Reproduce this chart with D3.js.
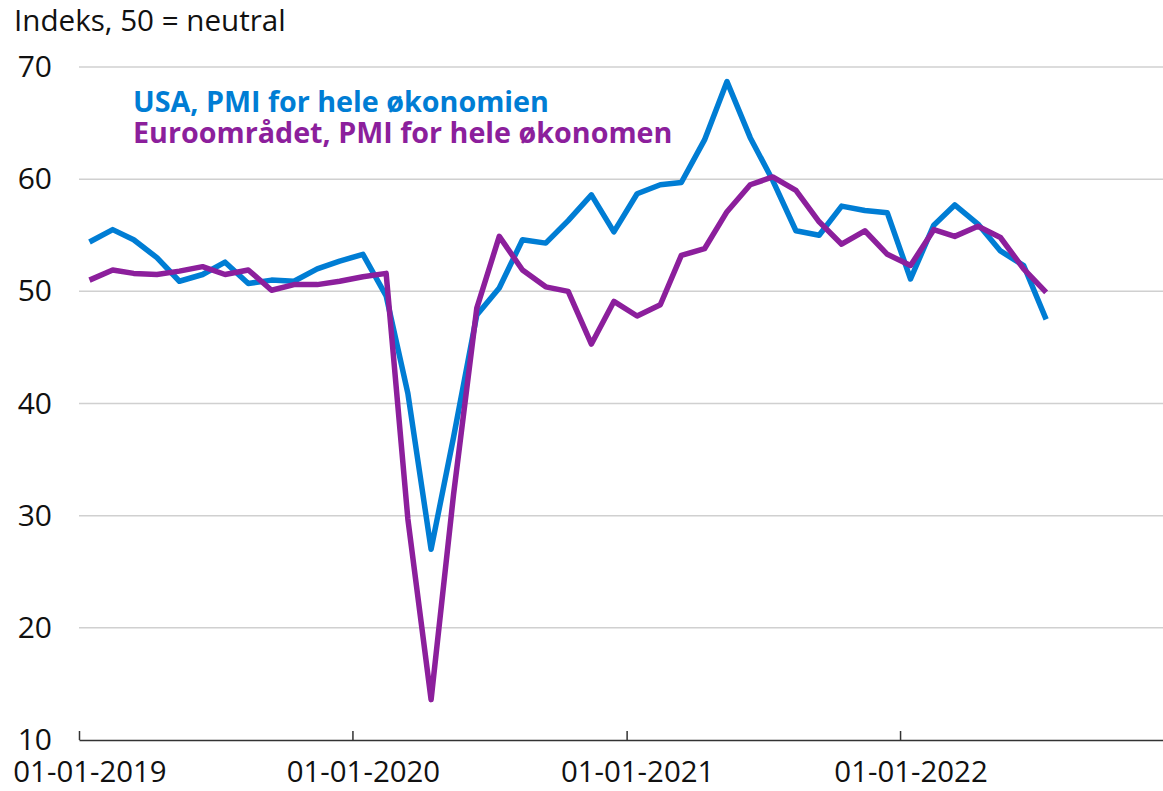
<!DOCTYPE html>
<html>
<head>
<meta charset="utf-8">
<script src="https://cdn.jsdelivr.net/npm/d3@7"></script>
<style>
  body { margin: 0; background: #fff; }
  text { font-family: "Open Sans", sans-serif; }
</style>
</head>
<body>
<div id="chart"></div>
<script>
"use strict";

// months Jan 2019 - Jul 2022
var months = d3.timeMonths(new Date(2019, 0, 1), new Date(2022, 7, 1));

var usa = [54.4, 55.5, 54.6, 53.0, 50.9, 51.5, 52.6, 50.7, 51.0, 50.9, 52.0, 52.7,
           53.3, 49.6, 40.9, 27.0, 37.0, 47.9, 50.3, 54.6, 54.3, 56.3, 58.6, 55.3,
           58.7, 59.5, 59.7, 63.5, 68.7, 63.7, 59.9, 55.4, 55.0, 57.6, 57.2, 57.0,
           51.1, 55.9, 57.7, 56.0, 53.6, 52.3, 47.5];

var euro = [51.0, 51.9, 51.6, 51.5, 51.8, 52.2, 51.5, 51.9, 50.1, 50.6, 50.6, 50.9,
            51.3, 51.6, 29.7, 13.6, 31.9, 48.5, 54.9, 51.9, 50.4, 50.0, 45.3, 49.1,
            47.8, 48.8, 53.2, 53.8, 57.1, 59.5, 60.2, 59.0, 56.2, 54.2, 55.4, 53.3,
            52.3, 55.5, 54.9, 55.8, 54.8, 52.0, 49.9];

var yTicks = [10, 20, 30, 40, 50, 60, 70];
var xTicks = [new Date(2019, 0, 1), new Date(2020, 0, 1), new Date(2021, 0, 1), new Date(2022, 0, 1)];

var seriesNames = ["USA, PMI for hele økonomien", "Euroområdet, PMI for hele økonomen"];
var colors = ["#007dd4", "#8c1f9c"];

function drawChart() {
    var w = 1163, h = 791;
    var mLeft = 79, mRight = 1163, mTop = 67, mBottom = 740;

    var svg = d3.select("#chart").append("svg")
        .attr("width", w)
        .attr("height", h);

    var x = d3.scaleTime()
        .domain([new Date(2019, 0, 1), new Date(2022, 11, 18)])
        .range([mLeft, mRight]);

    var y = d3.scaleLinear()
        .domain([10, 70])
        .range([mBottom, mTop]);

    // grid lines
    svg.append("g")
        .selectAll("line")
        .data(yTicks.filter(function(d) { return d > 10; }))
        .enter().append("line")
        .attr("x1", mLeft)
        .attr("x2", mRight)
        .attr("y1", function(d) { return y(d); })
        .attr("y2", function(d) { return y(d); })
        .attr("stroke", "#d0d0d0")
        .attr("stroke-width", 1.5);

    // y labels
    svg.append("g")
        .selectAll("text")
        .data(yTicks)
        .enter().append("text")
        .attr("x", 52)
        .attr("y", function(d) { return y(d) + 10; })
        .attr("text-anchor", "end")
        .style("font-size", "30px")
        .attr("fill", "#111")
        .text(function(d) { return d; });

    // x axis, ticks point up
    var xAxis = d3.axisTop(x)
        .tickValues(xTicks)
        .tickSize(9)
        .tickSizeOuter(0)
        .tickFormat("");

    var gx = svg.append("g")
        .attr("transform", "translate(0," + mBottom + ")")
        .call(xAxis);
    gx.select(".domain").attr("stroke", "#333").attr("stroke-width", 1.5);
    gx.selectAll(".tick line").attr("stroke", "#333").attr("stroke-width", 1.5);

    // labels sit a bit right of their tick
    svg.append("g")
        .selectAll("text")
        .data(xTicks)
        .enter().append("text")
        .attr("x", function(d) { return x(d) + 11; })
        .attr("y", 782)
        .attr("text-anchor", "middle")
        .style("font-size", "29.4px")
        .attr("fill", "#111")
        .text(d3.timeFormat("%d-%m-%Y"));

    // title
    svg.append("text")
        .attr("x", 14)
        .attr("y", 31)
        .style("font-size", "29.6px")
        .attr("fill", "#111")
        .text("Indeks, 50 = neutral");

    // lines, plotted mid-month
    var line = d3.line()
        .x(function(d, i) { return x(d3.timeDay.offset(months[i], 14)); })
        .y(function(d) { return y(d); });

    [usa, euro].forEach(function(s, i) {
        svg.append("path")
            .datum(s)
            .attr("fill", "none")
            .attr("stroke", colors[i])
            .attr("stroke-width", 5.5)
            .attr("stroke-linejoin", "round")
            .attr("d", line);
    });

    // legend
    svg.append("g")
        .selectAll("text")
        .data(seriesNames)
        .enter().append("text")
        .attr("x", 133)
        .attr("y", function(d, i) { return 112 + i * 31; })
        .style("font-size", "28.7px")
        .style("font-weight", "bold")
        .attr("fill", function(d, i) { return colors[i]; })
        .text(function(d) { return d; });
}

window.addEventListener("load", function() {
    drawChart();
});
</script>
</body>
</html>
